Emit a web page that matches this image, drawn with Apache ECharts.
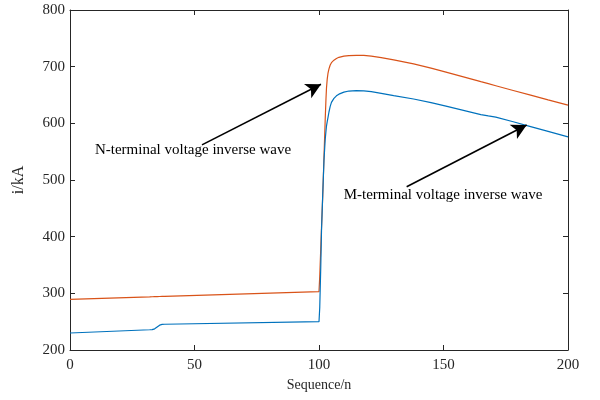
<!DOCTYPE html>
<html>
<head>
<meta charset="utf-8">
<script src="https://cdn.jsdelivr.net/npm/echarts@6/dist/echarts.min.js"></script>
<style>
  html, body { margin: 0; padding: 0; background: #fff; }
  #chart { width: 600px; height: 400px; }
</style>
</head>
<body>
<div id="chart"></div>
<script>
const seqN = [0, 32, 33, 33.5, 34, 34.5, 35, 35.5, 36, 36.5, 37, 38,
  100, 100.3, 100.7, 101, 101.5, 102, 102.5, 102.8, 103, 103.3, 103.6, 104, 104.5, 105,
  106, 107, 108, 110, 112, 115, 118, 121, 125, 130,
  138, 145, 151, 158, 165, 168, 171, 178, 185, 192, 200]
const nTerminal = [289.5, 293.8, 294, 294, 294.1, 294.2, 294.2, 294.3, 294.4, 294.4, 294.5, 294.6,
  303, 330, 378, 415, 472, 540, 608, 643, 662, 678, 688, 696, 703, 707,
  711.5, 714.5, 716.5, 718.5, 719.5, 720, 719.8, 718.5, 716, 712,
  705, 697.5, 690.5, 682, 673.5, 670, 666.4, 658, 649.7, 641.3, 632]
const mTerminal = [230, 235.7, 236, 236.5, 237.4, 238.8, 240.6, 242.4, 243.8, 244.6, 245.1, 245.4,
  250, 275, 345, 410, 475, 535, 572, 586, 595, 603, 610, 620, 630, 637,
  644, 648.5, 651.5, 655, 657, 657.8, 657.3, 655.8, 653, 649,
  643, 636.5, 630.5, 623, 615.5, 613.2, 611, 602.8, 594.3, 585.8, 576]

// annotation arrows [from, to] and label anchors, in data units
const nArrow = [[53, 562], [100.8, 669]]
const mArrow = [[135.2, 488], [183.4, 597]]
const nLabel = [49.4, 553]
const mLabel = [149.8, 473]

const font = 'Liberation Serif'
const axisColor = '#262626'

const pairs = ys => seqN.map((n, i) => [n, ys[i]])

const arrowLine = (pts) => ({
  silent: true,
  symbol: ['none', 'arrow'],
  symbolSize: [12, 15],
  lineStyle: { color: '#000', width: 1.6, type: 'solid' },
  label: { show: false },
  data: [[{ coord: pts[0] }, { coord: pts[1] }]],
})

const textPoint = (pos, text) => ({
  silent: true,
  symbol: 'circle',
  symbolSize: 0,
  label: {
    show: true,
    position: 'inside',
    formatter: text,
    fontFamily: font,
    fontSize: 15,
    color: '#000',
  },
  data: [{ coord: pos }],
})

const chart = echarts.init(document.getElementById('chart'))

const baseX = {
  type: 'value',
  min: 0,
  max: 200,
  interval: 50,
  splitLine: { show: false },
  axisLine: { show: true, onZero: false, lineStyle: { color: axisColor, width: 1 } },
  axisTick: { show: true, inside: true, length: 5, lineStyle: { color: axisColor } },
}
const baseY = {
  type: 'value',
  min: 200,
  max: 800,
  interval: 100,
  splitLine: { show: false },
  axisLine: { show: true, onZero: false, lineStyle: { color: axisColor, width: 1 } },
  axisTick: { show: true, inside: true, length: 5, lineStyle: { color: axisColor } },
}

chart.setOption({
  animation: false,
  grid: { left: 70, right: 32, top: 10, bottom: 50 },
  xAxis: [
    {
      ...baseX,
      position: 'bottom',
      name: 'Sequence/n',
      nameLocation: 'middle',
      nameGap: 28,
      nameTextStyle: { fontFamily: font, fontSize: 14, color: axisColor },
      axisLabel: { fontFamily: font, fontSize: 15, color: axisColor, margin: 8 },
    },
    { ...baseX, position: 'top', axisLabel: { show: false } },
  ],
  yAxis: [
    {
      ...baseY,
      position: 'left',
      name: 'i/kA',
      nameLocation: 'middle',
      nameGap: 43,
      nameTextStyle: { fontFamily: font, fontSize: 16, color: axisColor },
      axisLabel: { fontFamily: font, fontSize: 15, color: axisColor, margin: 5 },
    },
    { ...baseY, position: 'right', axisLabel: { show: false } },
  ],
  series: [
    {
      name: 'N-terminal',
      type: 'line',
      data: pairs(nTerminal),
      showSymbol: false,
      lineStyle: { color: '#D95319', width: 1.2 },
      itemStyle: { color: '#D95319' },
      markLine: arrowLine(nArrow),
      markPoint: textPoint(nLabel, 'N-terminal voltage inverse wave'),
    },
    {
      name: 'M-terminal',
      type: 'line',
      data: pairs(mTerminal),
      showSymbol: false,
      lineStyle: { color: '#0072BD', width: 1.2 },
      itemStyle: { color: '#0072BD' },
      markLine: arrowLine(mArrow),
      markPoint: textPoint(mLabel, 'M-terminal voltage inverse wave'),
    },
  ],
})
</script>
</body>
</html>
